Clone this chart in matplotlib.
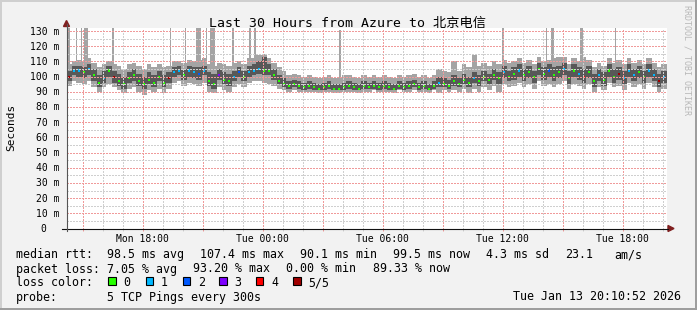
import datetime as dt
import numpy as np
import matplotlib
matplotlib.use("Agg")
import matplotlib.pyplot as plt
import matplotlib.dates as mdates
from matplotlib.ticker import MultipleLocator
from matplotlib.patches import Rectangle, Polygon
from matplotlib.lines import Line2D
from matplotlib.transforms import blended_transform_factory, offset_copy

# ---------------- data ----------------
title = "Last 30 Hours from Azure to 北京电信"
start = dt.datetime(2026, 1, 12, 14, 10, 52)
end = dt.datetime(2026, 1, 13, 20, 10, 52)
step_minutes = 15

median = [100, 104, 104, 103, 105, 101, 96, 99, 104, 100,
          97, 95, 99, 101, 97, 95, 98, 96, 100, 96,
          99, 103, 104, 101, 104, 103, 102, 104, 97, 95,
          101, 98, 97, 100, 103, 100, 103, 104, 105, 104,
          104, 101, 97, 95, 94, 95, 94, 93, 94, 93,
          92, 93, 94, 92, 92, 93, 94, 93, 92, 94,
          93, 94, 93, 94, 93, 92, 94, 93, 94, 95,
          93, 94, 92, 94, 96, 95, 94, 97, 95, 98,
          96, 99, 97, 100, 98, 101, 99, 103, 100, 102,
          104, 101, 103, 100, 105, 102, 104, 101, 103, 105,
          99, 104, 102, 100, 103, 97, 101, 98, 104, 100,
          102, 99, 104, 101, 103, 100, 104, 101, 97, 100]

ping_min = [94, 97, 96, 95, 97, 93, 90, 93, 95, 93,
            91, 89, 92, 93, 90, 88, 91, 90, 92, 89,
            92, 96, 97, 94, 96, 95, 94, 96, 90, 89,
            93, 91, 90, 93, 95, 93, 96, 97, 97, 96,
            95, 94, 92, 91, 90, 91, 90, 90, 90, 90,
            89, 90, 90, 89, 89, 90, 90, 90, 89, 90,
            90, 91, 90, 90, 90, 89, 91, 90, 90, 91,
            90, 90, 89, 91, 89, 91, 90, 91, 90, 92,
            89, 92, 90, 93, 91, 94, 90, 95, 93, 94,
            96, 93, 95, 92, 97, 94, 95, 93, 95, 97,
            92, 95, 94, 92, 95, 90, 93, 91, 96, 93,
            94, 91, 96, 93, 95, 92, 96, 93, 90, 92]

ping_q1 = [97, 101, 100, 99, 101, 97, 93, 96, 100, 96,
           94, 92, 96, 97, 94, 92, 95, 93, 97, 93,
           96, 100, 101, 98, 100, 99, 98, 101, 94, 92,
           98, 95, 94, 97, 100, 97, 100, 101, 102, 101,
           101, 98, 95, 93, 92, 93, 92, 91, 92, 91,
           91, 91, 92, 91, 91, 91, 92, 91, 91, 92,
           92, 92, 91, 92, 91, 91, 92, 91, 92, 93,
           91, 92, 91, 92, 93, 93, 92, 94, 93, 95,
           93, 96, 94, 97, 95, 98, 95, 99, 97, 98,
           100, 97, 99, 96, 101, 98, 100, 97, 99, 101,
           95, 100, 98, 96, 99, 93, 97, 94, 100, 96,
           98, 95, 100, 97, 99, 96, 100, 97, 93, 96]

ping_q3 = [104, 107, 107, 106, 108, 105, 101, 104, 107, 104,
           102, 100, 103, 105, 102, 100, 103, 101, 104, 101,
           103, 106, 107, 105, 107, 106, 106, 107, 103, 102,
           105, 103, 102, 104, 106, 104, 107, 108, 110, 113,
           108, 105, 101, 99, 97, 98, 97, 96, 97, 96,
           95, 96, 97, 95, 95, 96, 97, 96, 95, 97,
           96, 97, 96, 97, 96, 95, 97, 96, 97, 98,
           96, 97, 95, 97, 100, 99, 98, 101, 99, 102,
           100, 103, 101, 104, 102, 105, 103, 107, 104, 106,
           108, 105, 107, 104, 109, 106, 108, 106, 107, 109,
           104, 108, 106, 105, 107, 102, 105, 103, 108, 105,
           106, 104, 108, 105, 107, 104, 108, 105, 102, 104]

ping_max = [108, 110, 111, 110, 112, 109, 106, 108, 110, 108,
            107, 105, 108, 109, 107, 105, 108, 106, 108, 106,
            107, 110, 110, 109, 111, 110, 111, 112, 108, 107,
            109, 108, 107, 109, 110, 108, 112, 112, 114, 115,
            112, 109, 106, 104, 101, 102, 101, 100, 101, 100,
            99, 100, 101, 99, 99, 101, 101, 100, 99, 101,
            100, 101, 100, 101, 100, 99, 101, 100, 101, 102,
            100, 101, 99, 101, 105, 104, 103, 110, 104, 108,
            106, 114, 107, 109, 107, 110, 108, 111, 109, 110,
            112, 109, 111, 108, 113, 110, 111, 112, 113, 113,
            108, 112, 110, 113, 111, 106, 109, 107, 112, 109,
            111, 108, 112, 109, 111, 108, 112, 109, 106, 108]

loss = [5, 1, 1, 0, 1, 0, 0, 1, 0, 5,
        0, 0, 0, 0, 0, 0, 0, 0, 0, 0,
        5, 1, 1, 0, 1, 1, 2, 1, 0, 0,
        3, 0, 0, 1, 2, 0, 1, 1, 1, 0,
        0, 0, 0, 0, 0, 0, 0, 0, 0, 0,
        0, 0, 0, 0, 0, 0, 0, 0, 0, 0,
        0, 0, 0, 0, 0, 0, 0, 0, 0, 0,
        0, 0, 0, 0, 1, 0, 0, 0, 0, 0,
        0, 1, 0, 0, 0, 0, 0, 1, 0, 0,
        1, 0, 0, 0, 0, 0, 2, 0, 0, 1,
        0, 0, 1, 4, 0, 0, 1, 0, 0, 0,
        5, 1, 1, 1, 0, 0, 1, 1, 5, 1]

# short outlier pings (time, minutes wide, top value in ms)
spike_times = ["2026-01-12 14:18", "2026-01-12 14:41", "2026-01-12 14:56",
               "2026-01-12 15:09", "2026-01-12 16:30", "2026-01-12 19:23",
               "2026-01-12 20:08", "2026-01-12 20:48", "2026-01-12 21:11",
               "2026-01-12 21:29", "2026-01-12 22:30", "2026-01-12 23:21",
               "2026-01-12 23:36", "2026-01-13 03:51", "2026-01-13 12:01",
               "2026-01-13 14:11", "2026-01-13 14:28", "2026-01-13 15:55",
               "2026-01-13 17:38"]
spike_minutes = [5, 5, 5, 10, 5, 5, 5, 15, 5, 15, 5, 5, 5, 5, 5, 5, 8, 8, 5]
spike_tops = [140, 140, 140, 140, 140, 140, 140, 140, 140, 140,
              140, 140, 140, 131, 140, 140, 140, 140, 140]

ytick_values = list(range(0, 131, 10))
loss_labels = ["0", "1", "2", "3", "4", "5/5"]
loss_colors = ["#26ff00", "#00b8ff", "#0059ff", "#7e00ff", "#ff0000", "#a10000"]

rtt_avg, rtt_max, rtt_min, rtt_now, rtt_sd, rtt_ams = 98.5, 107.4, 90.1, 99.5, 4.3, 23.1
loss_avg, loss_max, loss_min, loss_now = 7.05, 93.20, 0.00, 89.33
probe_text = "5 TCP Pings every 300s"

# ---------------- styling ----------------
W, H = 697, 310
BACK = "#f2f2f2"
SHADEA = "#cfcfcf"
SHADEB = "#9e9e9e"
GRID = "#cfcfcf"
MGRID = "#f09a9a"
ARROW = "#801f1f"
MONO = "DejaVu Sans Mono"


def fx(x):
    return x / W


def fy(y):
    return 1 - y / H


fig = plt.figure(figsize=(W / 100, H / 100), dpi=100, facecolor=BACK)
ax = fig.add_axes([fx(66.5), fy(228.5), 600 / W, 200.5 / H])
ax.set_facecolor("white")

t0 = mdates.date2num(start)
step = step_minutes / 1440.0
n = len(median)
edges = t0 + step * np.arange(n + 1)


def ext(v):
    v = np.asarray(v, dtype=float)
    return np.append(v, v[-1])


# smoke
ax.fill_between(edges, ext(ping_min), ext(ping_max), step="post",
                color="#a4a4a4", linewidth=0, zorder=1)
sp_t = mdates.date2num([dt.datetime.strptime(s, "%Y-%m-%d %H:%M") for s in spike_times])
sp_w = np.asarray(spike_minutes) / 1440.0
sp_b = np.interp(sp_t, edges[:-1], np.asarray(ping_q3, dtype=float))
ax.bar(sp_t, np.asarray(spike_tops) - sp_b, bottom=sp_b, width=sp_w, align="center",
       color="#a4a4a4", linewidth=0, zorder=1)
ax.fill_between(edges, ext(ping_q1), ext(ping_q3), step="post",
                color="#585858", linewidth=0, zorder=1.1)
# median, coloured by loss
med = np.asarray(median, dtype=float)
cols = [loss_colors[l] for l in loss]
ax.bar(edges[:-1] + step * 0.25, 1.35, bottom=med - 0.67, width=step * 0.5,
       align="edge", color=cols, linewidth=0, zorder=1.2)

ax.set_xlim(t0, mdates.date2num(end))
ax.set_ylim(0, 132)
for s in ax.spines.values():
    s.set_visible(False)

ax.yaxis.set_major_locator(MultipleLocator(10))
ax.yaxis.set_minor_locator(MultipleLocator(5))
ax.xaxis.set_major_locator(mdates.HourLocator(byhour=range(0, 24, 3)))
ax.xaxis.set_minor_locator(mdates.HourLocator())
ax.set_axisbelow(False)
ax.grid(which="minor", color=GRID, linestyle=(0, (1.4, 1.4)), linewidth=0.72, antialiased=False)
ax.grid(which="major", color=MGRID, linestyle=(0, (1.4, 1.4)), linewidth=0.72, antialiased=False)
ax.tick_params(which="both", left=False, labelleft=False, labelbottom=False)
ax.tick_params(which="major", axis="x", direction="out", length=1.6, color=MGRID, width=0.72)
ax.tick_params(which="minor", axis="x", direction="out", length=1.6, color=GRID, width=0.72)

# axes lines and arrows
fig.add_artist(Line2D([fx(62), fx(668)], [fy(228.5), fy(228.5)], color="#111111", lw=0.8))
fig.add_artist(Line2D([fx(66.5), fx(66.5)], [fy(231), fy(24)], color="#555555", lw=0.8))
fig.add_artist(Polygon([(fx(63.5), fy(26.5)), (fx(69.5), fy(26.5)), (fx(66.5), fy(20.5))],
                       closed=True, color=ARROW, transform=fig.transFigure))
fig.add_artist(Polygon([(fx(668), fy(225.5)), (fx(668), fy(231.5)), (fx(674), fy(228.5))],
                       closed=True, color=ARROW, transform=fig.transFigure))

# y tick labels
ytrans = offset_copy(blended_transform_factory(fig.transFigure, ax.transData),
                     fig=fig, x=0, y=-3.5, units="dots")
for v in ytick_values:
    lab = f"{v} m" if v else "0"
    xr = 59.5 if v else 46.5
    ax.text(fx(xr), v, lab, transform=ytrans, ha="right", va="baseline",
            fontsize=7, family=MONO, color="black", clip_on=False)

# x tick labels
xtrans = blended_transform_factory(ax.transData, fig.transFigure)
lab_times = mdates.HourLocator(byhour=range(0, 24, 6)).tick_values(start, end)
for tn in lab_times:
    if t0 <= tn <= mdates.date2num(end):
        d = mdates.num2date(tn)
        ax.text(tn, fy(241.5), d.strftime("%a %H:%M"), transform=xtrans,
                ha="center", va="baseline", fontsize=7, family=MONO, clip_on=False)

# title, axis label, watermark
fig.text(fx(347.5), fy(26.7), title, ha="center", va="baseline", fontsize=9.5,
         family=[MONO, "Noto Sans CJK SC"])
fig.text(fx(11), fy(127), "Seconds", rotation=90, ha="center", va="center",
         fontsize=8, family=MONO)
fig.text(fx(687.3), fy(60), "RRDTOOL / TOBI OETIKER", rotation=270, ha="center",
         va="center", fontsize=6, family=MONO, color="#b8b8b8")

# legend
LF = 8.35
rows = [
    (258.2, [("median rtt:", 16), (f"{rtt_avg:.1f} ms avg", 107.3),
             (f"{rtt_max:.1f} ms max", 200), (f"{rtt_min:.1f} ms min", 300),
             (f"{rtt_now:.1f} ms now", 393.3), (f"{rtt_sd:.1f} ms sd", 486),
             (f"{rtt_ams:.1f}", 565.3), ("am/s", 614.3)]),
    (272.5, [("packet loss:", 16), (f"{loss_avg:.2f} % avg", 107.3),
             (f"{loss_max:.2f} % max", 193.3), (f"{loss_min:.2f} % min", 286),
             (f"{loss_now:.2f} % now", 372.7)]),
    (286.5, [("loss color:", 16)]),
    (300.5, [("probe:", 16), (probe_text, 107.3)]),
]
for yb, items in rows:
    for s, x in items:
        fig.text(fx(x), fy(yb), s, ha="left", va="baseline", fontsize=LF, family=MONO)

box_x = [108.3, 145.7, 182.7, 219.3, 256, 293.3]
for bx, lab, c in zip(box_x, loss_labels, loss_colors):
    fig.add_artist(Rectangle((fx(bx), fy(285.3)), 7.4 / W, 8 / H, transform=fig.transFigure,
                             facecolor=c, edgecolor="black", linewidth=0.8))
    fig.text(fx(bx + 15), fy(286.5), lab, ha="left", va="baseline", fontsize=LF, family=MONO)

fig.text(fx(681), fy(300.5), end.strftime("%a %b %d %H:%M:%S %Y"), ha="right",
         va="baseline", fontsize=LF, family=MONO)

# 3d border
fig.add_artist(Rectangle((0, fy(2)), 1, 2 / H, transform=fig.transFigure, color=SHADEA, lw=0))
fig.add_artist(Rectangle((0, 0), 2 / W, 1, transform=fig.transFigure, color=SHADEA, lw=0))
fig.add_artist(Rectangle((0, 0), 1, 2 / H, transform=fig.transFigure, color=SHADEB, lw=0))
fig.add_artist(Rectangle((fx(695), 0), 2 / W, 1, transform=fig.transFigure, color=SHADEB, lw=0))

fig.savefig("out.png", dpi=100, facecolor=BACK)
